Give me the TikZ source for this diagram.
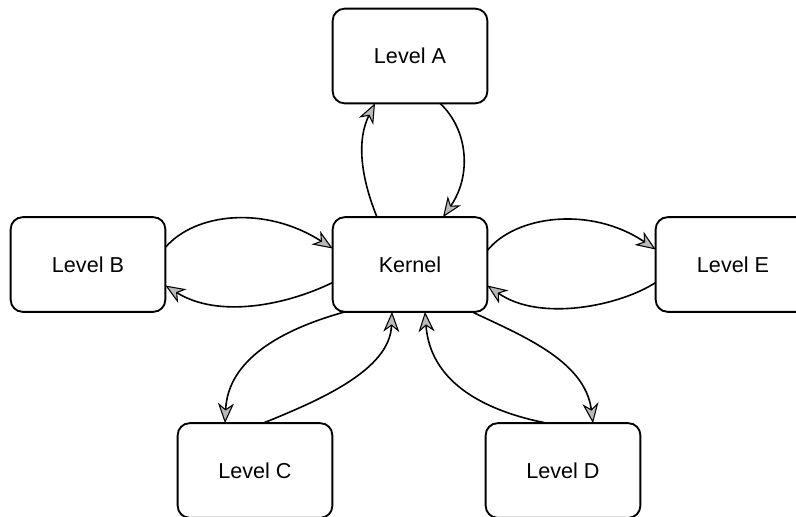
\documentclass[tikz,border=0pt]{standalone}
\usepackage{fontspec}
\setmainfont{Liberation Sans}
\usetikzlibrary{arrows.meta,calc}
\begin{document}
\begin{tikzpicture}[x=0.75pt,y=-0.75pt,
  levelbox/.style={draw=black, line width=1.4pt, rounded corners=9pt,
    minimum width=116pt, minimum height=71pt, inner sep=0pt, outer sep=0pt,
    fill=white, font=\fontsize{16.2pt}{19pt}\selectfont},
  link/.style={draw=black, line width=1.2pt,
    -{Stealth[length=15pt,width=12pt,inset=4.5pt,fill=gray!55,line width=0.8pt]}}]
\useasboundingbox (0,0) rectangle (796,517);
\clip (0,0) rectangle (796,517);
\fill[white] (0,0) rectangle (796,517);
\node[levelbox] (A) at (410,56) {Level A};
\node[levelbox] (K) at (410,264.5) {Kernel};
\node[levelbox] (B) at (88,264.5) {Level B};
\node[levelbox] (E) at (733,264.5) {Level E};
\node[levelbox] (C) at (255,470.5) {Level C};
\node[levelbox] (D) at (563,470.5) {Level D};
% Kernel <-> A
\draw[link] ($(K.north)+(-33,0)$) .. controls +(-17,-42) and +(-18,36) .. ($(A.south)+(-35,0)$);
\draw[link] ($(A.south)+(30,0)$) .. controls +(28,26) and +(29,-42) .. ($(K.north)+(33,0)$);
% B <-> Kernel
\draw[link] ($(B.east)+(0,-17)$) .. controls +(30,-35) and +(-67,-43) .. ($(K.west)+(0,-16)$);
\draw[link] ($(K.west)+(0,18)$) .. controls +(-47,23) and +(53,33) .. ($(B.east)+(0,21)$);
% Kernel <-> E
\draw[link] ($(K.east)+(0,-14)$) .. controls +(28,-35) and +(-65,-44) .. ($(E.west)+(0,-15)$);
\draw[link] ($(E.west)+(0,18)$) .. controls +(-35,23) and +(53,37) .. ($(K.east)+(0,21)$);
% Kernel <-> C
\draw[link] ($(K.south)+(-65,0)$) .. controls +(-65,18) and +(3,-63) .. ($(C.north)+(-30,0)$);
\draw[link] ($(C.north)+(8,0)$) .. controls +(57,-23) and +(-2,58) .. ($(K.south)+(-18,0)$);
% Kernel <-> D
\draw[link] ($(D.north)+(-16,0)$) .. controls +(-67,-13) and +(5,68) .. ($(K.south)+(15,0)$);
\draw[link] ($(K.south)+(62,0)$) .. controls +(48,23) and +(-8,-63) .. ($(D.north)+(30,0)$);
\end{tikzpicture}
\end{document}
